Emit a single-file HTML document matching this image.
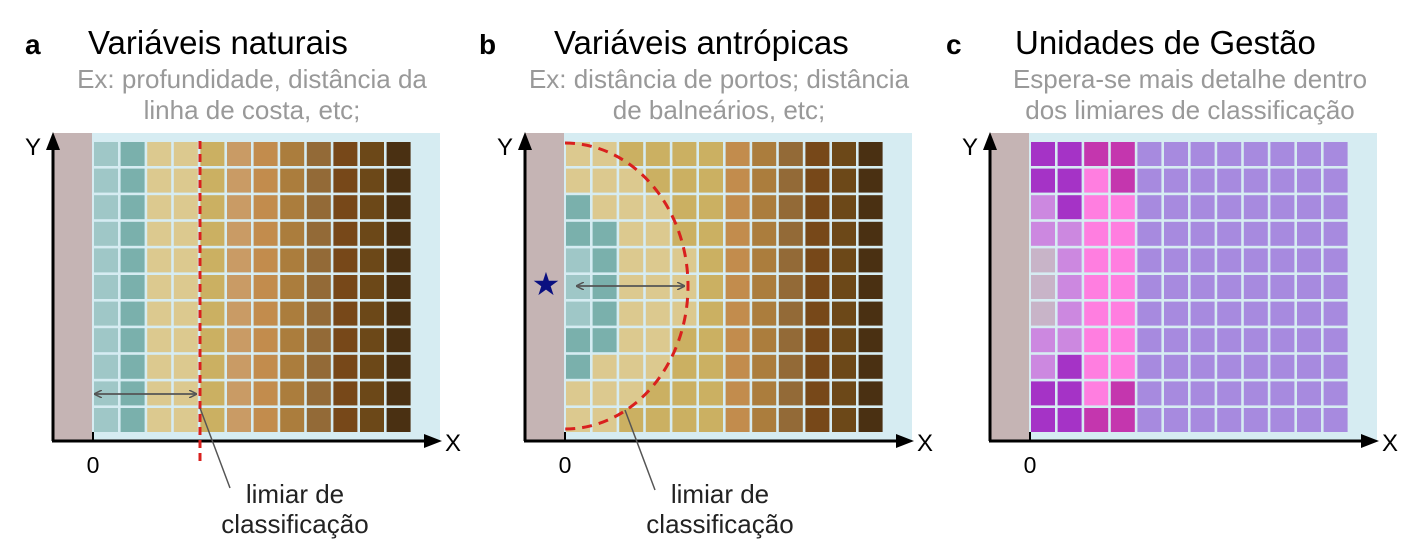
<!DOCTYPE html>
<html><head><meta charset="utf-8"><style>
html,body{margin:0;padding:0;background:#fff;width:1418px;height:558px;overflow:hidden}
svg{display:block;font-family:"Liberation Sans",Arial,sans-serif}
</style></head><body>
<svg id="s" width="1418" height="558" viewBox="0 0 1418 558" xmlns="http://www.w3.org/2000/svg">
<defs>
<marker id="ah" markerWidth="8" markerHeight="8" refX="7" refY="4" orient="auto-start-reverse" markerUnits="userSpaceOnUse"><path d="M0,0 L8,4 L0,8" fill="none" stroke="#555" stroke-width="1.5"/></marker>
</defs>
<g id="grids"></g>
<text x="25" y="54" font-size="28" font-weight="bold">a</text>
<text x="88" y="54" font-size="33">Variáveis naturais</text>
<text x="252" y="88" font-size="26" fill="#999" text-anchor="middle">Ex: profundidade, distância da</text>
<text x="252" y="119" font-size="26" fill="#999" text-anchor="middle">linha de costa, etc;</text>
<text x="479" y="54" font-size="28" font-weight="bold">b</text>
<text x="554" y="54" font-size="33">Variáveis antrópicas</text>
<text x="719" y="88" font-size="26" fill="#999" text-anchor="middle">Ex: distância de portos; distância</text>
<text x="719" y="119" font-size="26" fill="#999" text-anchor="middle">de balneários, etc;</text>
<text x="946" y="54" font-size="28" font-weight="bold">c</text>
<text x="1015" y="54" font-size="33">Unidades de Gestão</text>
<text x="1190" y="88" font-size="26" fill="#999" text-anchor="middle">Espera-se mais detalhe dentro</text>
<text x="1190" y="119" font-size="26" fill="#999" text-anchor="middle">dos limiares de classificação</text>
<line x1="200" y1="141" x2="200" y2="462" stroke="#d9201e" stroke-width="3" stroke-dasharray="8,5"/>
<line x1="95" y1="394" x2="196" y2="394" stroke="#555" stroke-width="1.8" marker-start="url(#ah)" marker-end="url(#ah)"/>
<line x1="200" y1="408" x2="230" y2="488" stroke="#555" stroke-width="1.5"/>
<text x="295" y="503" font-size="26" fill="#222" text-anchor="middle">limiar de</text>
<text x="295" y="533" font-size="26" fill="#222" text-anchor="middle">classificação</text>
<path d="M565,143 A123,143 0 0 1 565,429" fill="none" stroke="#d9201e" stroke-width="3" stroke-dasharray="10,7"/>
<line x1="577" y1="286" x2="684" y2="286" stroke="#555" stroke-width="1.8" marker-start="url(#ah)" marker-end="url(#ah)"/>
<line x1="625" y1="410" x2="655" y2="490" stroke="#555" stroke-width="1.5"/>
<text x="720" y="503" font-size="26" fill="#222" text-anchor="middle">limiar de</text>
<text x="720" y="533" font-size="26" fill="#222" text-anchor="middle">classificação</text>
<text x="546" y="295" font-size="32" fill="#0a1080" text-anchor="middle">★</text>
</svg>
<script>
var g=document.getElementById('grids'),NS='http://www.w3.org/2000/svg';
function r(x,y,w,h,f){var e=document.createElementNS(NS,'rect');e.setAttribute('x',x);e.setAttribute('y',y);e.setAttribute('width',w);e.setAttribute('height',h);e.setAttribute('fill',f);g.appendChild(e);}
function t(x,y,s,txt,anc){var e=document.createElementNS(NS,'text');e.setAttribute('x',x);e.setAttribute('y',y);e.setAttribute('font-size',s);if(anc)e.setAttribute('text-anchor',anc);e.textContent=txt;g.appendChild(e);}
function ln(x1,y1,x2,y2,w){var e=document.createElementNS(NS,'line');e.setAttribute('x1',x1);e.setAttribute('y1',y1);e.setAttribute('x2',x2);e.setAttribute('y2',y2);e.setAttribute('stroke','#000');e.setAttribute('stroke-width',w);g.appendChild(e);}
function poly(p){var e=document.createElementNS(NS,'polygon');e.setAttribute('points',p);e.setAttribute('fill','#000');g.appendChild(e);}
var A=['#9fc7c7','#7ab0ac','#dcc98f','#dcc98f','#cbb062','#c99b65','#c28c4d','#ab7d3d','#936a37','#774819','#6c4818','#4a3012'];
var LT='#dcc98f',DT='#7ab0ac',LB='#9fc7c7',G='#cbb062';
var B=[];
for(var i=0;i<11;i++){B.push([]);for(var j=0;j<12;j++){var cx=567+j*26.6+12,cy=142+i*26.6+12;var dx=(cx-565)/123,dy=(cy-286)/143;var inside=dx*dx+dy*dy<1;var c=j>=6?A[j]:(inside?LT:G);B[i].push(c);}}
for(i=2;i<=8;i++)B[i][0]=(i>=4&&i<=6)?LB:DT;
for(i=3;i<=7;i++)B[i][1]=DT;
var P='#a533c6',M='#c436ae',K='#ff7ee0',L='#cc88e0',Y='#c8b4c8',V='#a78adf';
var Cc=[[P,P,M,M],[P,P,K,M],[L,P,K,K],[L,L,K,K],[Y,L,K,K],[Y,L,K,K],[Y,L,K,K],[L,L,K,K],[L,P,K,K],[P,P,K,M],[P,P,M,M]];
function panel(o,fn){
 r(53+o,133,39,308,'#c5b4b4');
 r(92+o,133,348,308,'#d6ecf2');
 for(var i=0;i<11;i++)for(var j=0;j<12;j++)r(94+o+j*26.6,142+i*26.6,24,24,fn(i,j));
 ln(53+o,441,53+o,148,3);poly((o+46)+',150 '+(o+60)+',150 '+(o+53)+',132');
 ln(52+o,441,425+o,441,3);poly((o+424)+',434 '+(o+424)+',448 '+(o+442)+',441');
 ln(93+o,432,93+o,441,2);
 t(33+o,155,24,'Y','middle');t(453+o,451,24,'X','middle');t(93+o,473,23,'0','middle');
}
panel(0,function(i,j){return A[j];});
panel(472,function(i,j){return B[i][j];});
panel(937,function(i,j){return j<4?Cc[i][j]:V;});
</script>
</body></html>
